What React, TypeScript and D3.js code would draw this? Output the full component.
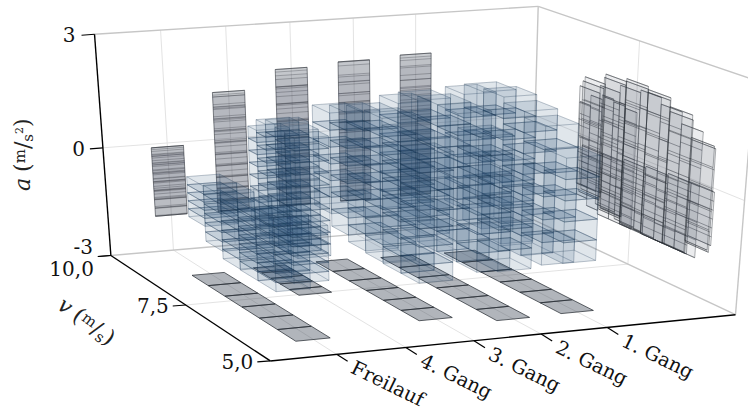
import React from "react";
import * as d3 from "d3";

const W = 748, H = 411;
const gearNames = ["Freilauf", "4. Gang", "3. Gang", "2. Gang", "1. Gang"];
const aTicks = [3, 0, -3];
const vTicks = ["5,0", "7,5", "10,0"];

// v bin edges, front to back
const vEdgesFrei = [5.64, 6.16, 6.68, 7.2, 7.72, 8.24, 8.76];
const vEdges4 = [7.47, 7.75, 8.03, 8.31, 8.59, 8.85];
const vEdges3 = [5.97, 6.45, 6.93, 7.41, 7.89, 8.37, 8.87];
const vEdges2 = [5.68, 6.2, 6.72, 7.24, 7.76, 8.28, 8.8];
const vEdges1 = [5.71, 6.22, 6.73, 7.24, 7.75, 8.25, 8.75];

// acceleration range of each v bin, front to back
const loFrei = [-1.5, -2.0, -2.0, -1.98, -1.78, -1.38];
const hiFrei = [-0.1, -0.1, -0.15, -0.2, -0.28, -0.3];
const lo4 = [-2.0, -2.0, -2.0, -1.9, -1.7];
const hi4 = [1.15, 1.2, 1.27, 1.15, 0.87];
const lo3 = [-2.0, -2.0, -1.97, -1.92, -1.74, -1.4];
const hi3 = [1.3, 1.6, 1.77, 1.7, 1.5, 1.29];
const lo2 = [-1.7, -2.0, -2.0, -2.0, -1.85, -1.6];
const hi2 = [1.0, 1.5, 1.85, 1.86, 1.75, 1.45];
const lo1 = [-1.66, -1.98, -2.0, -1.95, -1.8, -1.5];
const hi1 = [1.05, 1.62, 1.78, 1.93, 1.85, 1.58];

const layersFrei = [6, 8, 8, 7, 6, 5];
const layers4 = [10, 10, 10, 9, 8];
const layers3 = [7, 8, 8, 8, 7, 6];
const layers2 = [5, 7, 7, 7, 7, 6];
const layers1 = [5, 6, 7, 7, 6, 5];

const gearData = [
  { e: vEdgesFrei, lo: loFrei, hi: hiFrei, n: layersFrei },
  { e: vEdges4, lo: lo4, hi: hi4, n: layers4 },
  { e: vEdges3, lo: lo3, hi: hi3, n: layers3 },
  { e: vEdges2, lo: lo2, hi: hi2, n: layers2 },
  { e: vEdges1, lo: lo1, hi: hi1, n: layers1 },
];

// camera calibration: cube corners in the picture
const calib: [number, number, number, number, number][] = [
  [0, 0, 0, 270, 361], [1, 0, 0, 735, 314], [0, 1, 0, 110.7, 255.7], [1, 1, 0, 533, 219.5],
  [0, 1, 1, 95, 34], [1, 1, 1, 537, 6], [1, 0, 1, 755, 80.5],
];

function solveCamera() {
  const A: number[][] = [], b: number[] = [];
  calib.forEach(([x, y, z, px, py]) => {
    A.push([x, y, z, 1, 0, 0, 0, 0, -px * x, -px * y, -px * z]); b.push(px);
    A.push([0, 0, 0, 0, x, y, z, 1, -py * x, -py * y, -py * z]); b.push(py);
  });
  const n = 11;
  const M = d3.range(n).map((i) =>
    d3.range(n + 1).map((j) =>
      j < n ? d3.sum(A, (r) => r[i] * r[j]) : d3.sum(A, (r, k) => r[i] * b[k])));
  for (let i = 0; i < n; i++) {
    let p = i;
    for (let r = i + 1; r < n; r++) if (Math.abs(M[r][i]) > Math.abs(M[p][i])) p = r;
    [M[i], M[p]] = [M[p], M[i]];
    for (let r = 0; r < n; r++) if (r !== i) {
      const f = M[r][i] / M[i][i];
      for (let c = i; c <= n; c++) M[r][c] -= f * M[i][c];
    }
  }
  return M.map((r, i) => r[n] / r[i]);
}
const P = solveCamera();
const uScale = d3.scaleLinear().domain([-0.944, 5.98]).range([0, 1]);
const wallScale = d3.scaleLinear().domain([0, 4]).range([0.045, 4]);
const vScale = d3.scaleLinear().domain([5, 10]).range([0, 1]);
const aScale = d3.scaleLinear().domain([-3, 3]).range([0, 1]);
type Pt = [number, number];
const proj = (g: number, v: number, a: number): Pt => {
  const x = uScale(g), y = vScale(v), z = aScale(a);
  const w = P[8] * x + P[9] * y + P[10] * z + 1;
  return [(P[0] * x + P[1] * y + P[2] * z + P[3]) / w, (P[4] * x + P[5] * y + P[6] * z + P[7]) / w];
};
const gMin = uScale.domain()[0], gMax = uScale.domain()[1];
const line = d3.line<Pt>();
const poly = (pts: Pt[]) => line(pts) + "Z";
const HW = 0.25;

const FILL = "#2d5585", EDGE = "#1d3550";
const GRAY = "#3c4654", GLINE = "#2a2f36";

const serif = "'DejaVu Serif'";
const gearOrder = [4, 3, 2, 1, 0];

function Seg({ a, b, c, w }: { a: Pt; b: Pt; c: string; w: number }) {
  return <line x1={a[0]} y1={a[1]} x2={b[0]} y2={b[1]} stroke={c} strokeWidth={w} />;
}

export default function App() {
  const walls: React.ReactNode[] = [];
  const boxes: React.ReactNode[] = [];
  let key = 0;
  gearData.forEach((d, g) => {
    const gLo = d3.min(d.lo)!, gHi = d3.max(d.hi)!;
    const gw = wallScale(g);
    walls.push(<path key={key++} d={poly([proj(gw - HW, 10, gLo), proj(gw + HW, 10, gLo), proj(gw + HW, 10, gHi), proj(gw - HW, 10, gHi)])}
      fill={GRAY} fillOpacity={0.24} stroke={GLINE} strokeOpacity={0.7} strokeWidth={0.8} />);
    d.lo.forEach((lo, i) => {
      const hi = d.hi[i], v0 = d.e[i], v1 = d.e[i + 1];
      const step = (hi - lo) / d.n[i];
      walls.push(<path key={key++} d={poly([proj(g - HW, v0, -3), proj(g + HW, v0, -3), proj(g + HW, v1, -3), proj(g - HW, v1, -3)])}
        fill={GRAY} fillOpacity={0.4} stroke={GLINE} strokeOpacity={0.75} strokeWidth={1} />);
      walls.push(<path key={key++} d={poly([proj(gw - HW, 10, lo), proj(gw + HW, 10, lo), proj(gw + HW, 10, hi), proj(gw - HW, 10, hi)])}
        fill={GRAY} fillOpacity={0.035} />);
      walls.push(<path key={key++} d={poly([proj(gMax, v0, lo), proj(gMax, v1, lo), proj(gMax, v1, hi), proj(gMax, v0, hi)])}
        fill={GRAY} fillOpacity={0.1} stroke={GLINE} strokeOpacity={0.42} strokeWidth={0.9} />);
      d3.range(d.n[i] + 1).forEach((k) => {
        const a = lo + k * step;
        walls.push(<path key={key++} d={line([proj(gw - HW, 10, a), proj(gw + HW, 10, a)])!} fill="none" stroke={GLINE} strokeOpacity={0.36} strokeWidth={0.8} />);
        walls.push(<path key={key++} d={line([proj(gMax, v0, a), proj(gMax, v1, a)])!} fill="none" stroke={GLINE} strokeOpacity={0.48} strokeWidth={0.9} />);
      });
    });
  });

  gearOrder.forEach((g) => {
    const d = gearData[g];
    d3.range(d.lo.length - 1, -1, -1).forEach((i) => {
      const lo = d.lo[i], hi = d.hi[i], v0 = d.e[i], v1 = d.e[i + 1];
      const step = (hi - lo) / d.n[i];
      d3.range(d.n[i]).forEach((k) => {
        const a0 = lo + k * step, a1 = a0 + step;
        const c = (gg: number, vv: number, aa: number) => proj(gg, vv, aa);
        const x0 = g - HW, x1 = g + HW;
        const faces: Pt[][] = [
          [c(x0, v1, a0), c(x1, v1, a0), c(x1, v1, a1), c(x0, v1, a1)],
          [c(x1, v0, a0), c(x1, v1, a0), c(x1, v1, a1), c(x1, v0, a1)],
          [c(x0, v0, a0), c(x1, v0, a0), c(x1, v1, a0), c(x0, v1, a0)],
          [c(x0, v0, a0), c(x0, v1, a0), c(x0, v1, a1), c(x0, v0, a1)],
          [c(x0, v0, a1), c(x1, v0, a1), c(x1, v1, a1), c(x0, v1, a1)],
          [c(x0, v0, a0), c(x1, v0, a0), c(x1, v0, a1), c(x0, v0, a1)],
        ];
        faces.forEach((f) => boxes.push(
          <path key={key++} d={poly(f)} fill={FILL} fillOpacity={0.08} stroke={EDGE} strokeOpacity={0.2} strokeWidth={0.75} />));
      });
    });
  });

  const gridC = "#e3e3e3", boxC = "#c6c6c6";
  const labelFont = { fontFamily: serif, fill: "#111" };
  return (
    <svg width={W} height={H} style={{ position: "absolute", left: 0, top: 0, background: "#fff" }}>
      {gearNames.map((_, g) => (
        <g key={g}>
          <Seg a={proj(g, 5, -3)} b={proj(wallScale(g), 10, -3)} c={gridC} w={1} />
          <Seg a={proj(wallScale(g), 10, -3)} b={proj(wallScale(g), 10, 3)} c={gridC} w={1} />
        </g>
      ))}
      <Seg a={proj(gMin, 7.5, -3)} b={proj(gMax, 7.5, -3)} c={gridC} w={1} />
      <Seg a={proj(gMax, 7.5, -3)} b={proj(gMax, 7.5, 3)} c={gridC} w={1} />
      <Seg a={proj(gMin, 10, 0)} b={proj(gMax, 10, 0)} c={gridC} w={1} />
      <Seg a={proj(gMax, 10, 0)} b={proj(gMax, 5, 0)} c={gridC} w={1} />

      <Seg a={proj(gMin, 10, 3)} b={proj(gMax, 10, 3)} c={boxC} w={1.4} />
      <Seg a={proj(gMax, 10, 3)} b={proj(gMax, 5, 3)} c={boxC} w={1.4} />
      <Seg a={proj(gMax, 10, 3)} b={proj(gMax, 10, -3)} c={boxC} w={1.4} />
      <Seg a={proj(gMax, 5, 3)} b={proj(gMax, 5, -3)} c={boxC} w={1.4} />
      <Seg a={proj(gMin, 10, -3)} b={proj(gMax, 10, -3)} c={boxC} w={1.4} />
      <Seg a={proj(gMax, 10, -3)} b={proj(gMax, 5, -3)} c={boxC} w={1.4} />

      {walls}
      {boxes}

      <Seg a={proj(gMin, 10, 3)} b={proj(gMin, 10, -3)} c="#000" w={1.4} />
      <Seg a={proj(gMin, 10, -3)} b={proj(gMin, 5, -3)} c="#000" w={1.4} />
      <Seg a={proj(gMin, 5, -3)} b={proj(gMax, 5, -3)} c="#000" w={1.4} />

      {aTicks.map((t) => {
        const p = proj(gMin, 10, t);
        return (
          <g key={t}>
            <line x1={p[0] - 13} y1={p[1] + 1} x2={p[0]} y2={p[1]} stroke="#000" strokeWidth={1.2} />
            <text x={p[0] - (t === 3 ? 19 : 18)} y={p[1] + (t === -3 ? -2 : 8)} textAnchor="end" fontSize={20} {...labelFont}>{t}</text>
          </g>
        );
      })}
      {[5, 7.5, 10].map((t, i) => {
        const p = proj(gMin, t, -3);
        return (
          <g key={t}>
            <line x1={p[0] - 13} y1={p[1] + 1} x2={p[0]} y2={p[1]} stroke="#000" strokeWidth={1.2} />
            <text x={p[0] - 17} y={p[1] + (i === 2 ? 20 : 8)} textAnchor="end" fontSize={20} {...labelFont}>{vTicks[i]}</text>
          </g>
        );
      })}
      {gearNames.map((name, g) => {
        const p = proj(g, 5, -3);
        return (
          <g key={name}>
            <line x1={p[0]} y1={p[1]} x2={p[0] + 11} y2={p[1] + 7} stroke="#000" strokeWidth={1.2} />
            <text transform={`translate(${p[0] + 13},${p[1] + 18}) rotate(26)`} fontSize={19.5} {...labelFont}>{name}</text>
          </g>
        );
      })}
      <text transform="translate(30,191) rotate(-90)" fontSize={22} fill="#222" fontFamily={serif}>
        <tspan fontStyle="italic">a</tspan>
        <tspan dx={6}>(</tspan>
        <tspan fontSize={15} dy={-5}>m</tspan>
        <tspan dy={5}>/</tspan>
        <tspan fontSize={15} dy={3}>s</tspan>
        <tspan fontSize={11} dy={-10}>2</tspan>
        <tspan dy={7}>)</tspan>
      </text>
      <text transform="translate(56,308) rotate(36)" fontSize={22} fill="#222" fontFamily={serif}>
        <tspan fontStyle="italic">v</tspan>
        <tspan dx={6}>(</tspan>
        <tspan fontSize={15} dy={-5}>m</tspan>
        <tspan dy={5}>/</tspan>
        <tspan fontSize={15} dy={3}>s</tspan>
        <tspan dy={-3}>)</tspan>
      </text>
    </svg>
  );
}
